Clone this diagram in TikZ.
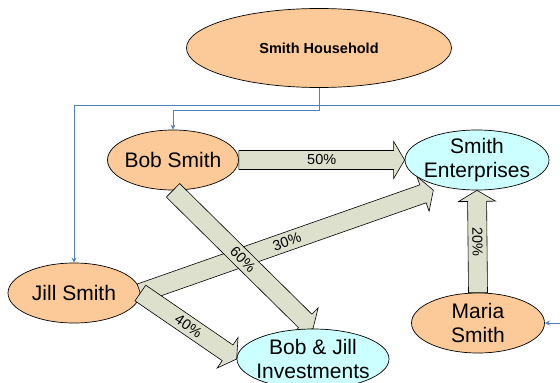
\documentclass[tikz,border=0pt]{standalone}
\usepackage{fontspec}
\setmainfont{Liberation Sans}
\usetikzlibrary{shapes.geometric,calc,arrows.meta}
\pgfdeclarelayer{front}
\pgfsetlayers{main,front}

\definecolor{peach}{RGB}{252,202,152}
\definecolor{paleblue}{RGB}{204,255,255}
\definecolor{khaki}{RGB}{221,224,204}
\definecolor{linkblue}{RGB}{79,129,189}

\tikzset{
  party/.style={ellipse, draw, fill=peach, line width=0.7pt, align=center,
    inner xsep=-15pt, inner ysep=-4pt, font=\fontsize{21}{24.5}\selectfont},
  firm/.style={party, fill=paleblue},
  link/.style={linkblue, line width=0.9pt, -{Stealth[length=5pt,width=5pt]}},
  share/.style={draw, fill=khaki, line width=0.6pt},
}

% fat share arrow from #1 to #2 with label #3
\newcommand{\fatarrow}[3]{%
  \coordinate (neck) at ($(#2)!11pt!(#1)$);
  \draw[share] ($(#1)!9.5pt!90:(#2)$) -- ($(neck)!9.5pt!-90:(#1)$)
    -- ($(neck)!18.5pt!-90:(#1)$) -- (#2) -- ($(neck)!18.5pt!90:(#1)$)
    -- ($(neck)!9.5pt!90:(#1)$) -- ($(#1)!9.5pt!-90:(#2)$) -- cycle;
  \path (#1) -- node[sloped, font=\fontsize{14.5}{16}\selectfont] {#3} (#2);
}

\begin{document}
\begin{tikzpicture}[x=1pt, y=-1pt]
  \useasboundingbox (0,0) rectangle (560,383);

  \node[party, minimum width=265pt, minimum height=79pt,
    font=\fontsize{14.5}{16}\selectfont\bfseries] (hh) at (319,48) {Smith Household};
  \node[party, minimum width=131pt, minimum height=60pt] (bob) at (173,160) {Bob Smith};
  \node[party, minimum width=132pt, minimum height=60pt] (jill) at (74,293) {Jill Smith};
  \node[party, minimum width=133pt, minimum height=60pt] (maria) at (478,323) {Maria\\Smith};
  \begin{pgfonlayer}{front}
    \node[firm, minimum width=144pt, minimum height=60pt] (ent) at (477,160) {Smith\\Enterprises};
    \node[firm, minimum width=152pt, minimum height=60pt] (inv) at (313,359) {Bob \& Jill\\Investments};
  \end{pgfonlayer}

  % household links
  \coordinate (bus) at (319,105);
  \draw[link] (hh.south) -- ++(0,23) -| (bob.north);
  \draw[link] (bus) -| (jill.north);
  \draw[link] (bus) -- ++(250,0) |- (maria.east);

  % shares
  \coordinate (enttip) at ([yshift=-6pt]ent.209);
  \fatarrow{bob.east}{ent.west}{50\%}
  \fatarrow{jill.east}{enttip}{30\%}
  \fatarrow{bob.south}{inv.north}{60\%}
  \fatarrow{jill.east}{inv.west}{40\%}
  \fatarrow{maria.north}{ent.south}{20\%}
\end{tikzpicture}
\end{document}
